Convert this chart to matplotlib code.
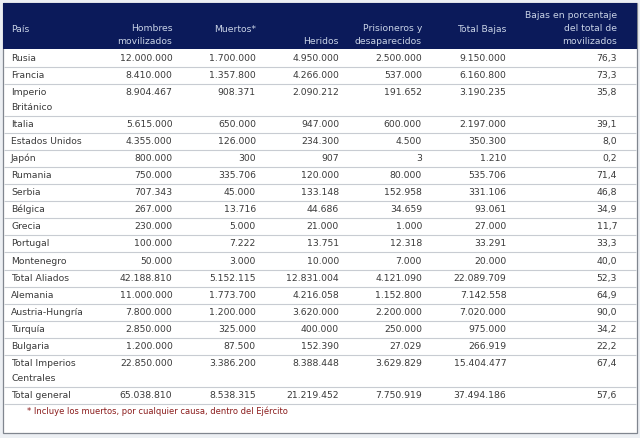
import matplotlib
matplotlib.use("Agg")
import matplotlib.pyplot as plt
from matplotlib.patches import Rectangle

# ---------------- data ----------------
paises = ["Rusia", "Francia", "Imperio\nBritánico", "Italia", "Estados Unidos", "Japón",
          "Rumania", "Serbia", "Bélgica", "Grecia", "Portugal", "Montenegro",
          "Total Aliados", "Alemania", "Austria-Hungría", "Turquía", "Bulgaria",
          "Total Imperios\nCentrales", "Total general"]
movilizados = [12000000, 8410000, 8904467, 5615000, 4355000, 800000, 750000, 707343,
               267000, 230000, 100000, 50000, 42188810, 11000000, 7800000, 2850000,
               1200000, 22850000, 65038810]
muertos = [1700000, 1357800, 908371, 650000, 126000, 300, 335706, 45000, 13716, 5000,
           7222, 3000, 5152115, 1773700, 1200000, 325000, 87500, 3386200, 8538315]
heridos = [4950000, 4266000, 2090212, 947000, 234300, 907, 120000, 133148, 44686, 21000,
           13751, 10000, 12831004, 4216058, 3620000, 400000, 152390, 8388448, 21219452]
prisioneros = [2500000, 537000, 191652, 600000, 4500, 3, 80000, 152958, 34659, 1000,
               12318, 7000, 4121090, 1152800, 2200000, 250000, 27029, 3629829, 7750919]
total_bajas = [9150000, 6160800, 3190235, 2197000, 350300, 1210, 535706, 331106, 93061,
               27000, 33291, 20000, 22089709, 7142558, 7020000, 975000, 266919,
               15404477, 37494186]
porcentaje = [76.3, 73.3, 35.8, 39.1, 8.0, 0.2, 71.4, 46.8, 34.9, 11.7, 33.3, 40.0,
              52.3, 64.9, 90.0, 34.2, 22.2, 67.4, 57.6]
encabezados = ["País", "Hombres\nmovilizados", "Muertos*", "Heridos",
               "Prisioneros y\ndesaparecidos", "Total Bajas",
               "Bajas en porcentaje\ndel total de\nmovilizados"]
nota = "* Incluye los muertos, por cualquier causa, dentro del Ejército"

# ---------------- layout / style ----------------
W, H = 640, 438
NAVY = "#0b1a5a"
HEAD_TXT = "#c9d3e6"
BODY_TXT = "#3a3a3a"
GRID = "#c8ccd2"
FS = 6.7
LINE = 15.0      # line spacing inside a cell (px)
ROW_H = 17.1
DOUBLE_H = 32.0
HEAD_TOP, HEAD_BOT = 3, 49
col_right = [None, 172.5, 256, 339, 422, 506.5, 617]
col_left = 11


def fmt_int(v):
    return f"{v:,}".replace(",", ".")


def fmt_pct(v):
    return f"{v:.1f}".replace(".", ",")


fig = plt.figure(figsize=(W / 100, H / 100), dpi=100)
fig.patch.set_facecolor("#eceff3")
ax = fig.add_axes([0, 0, 1, 1])
ax.set_xlim(0, W)
ax.set_ylim(H, 0)
ax.axis("off")

# outer box
ax.add_patch(Rectangle((2.5, 2.5), 634.5, 430.5, facecolor="white", edgecolor="#80868f", lw=0.9))
# header band
ax.add_patch(Rectangle((3, HEAD_TOP), 633.5, HEAD_BOT - HEAD_TOP, facecolor=NAVY, edgecolor="none"))

# header texts: bottom line positions as in reference
head_bottom_line = {0: 29.5, 1: 41.5, 2: 29.5, 3: 41.5, 4: 41.5, 5: 29.5, 6: 41.5}
for j, txt in enumerate(encabezados):
    lines = txt.split("\n")
    yb = head_bottom_line[j]
    for k, ln in enumerate(lines):
        y = yb - (len(lines) - 1 - k) * 13.0
        if j == 0:
            ax.text(col_left, y, ln, ha="left", va="center", color=HEAD_TXT, fontsize=FS)
        else:
            ax.text(col_right[j], y, ln, ha="right", va="center", color=HEAD_TXT, fontsize=FS)

# body rows
y = HEAD_BOT + 0.5
columns = [movilizados, muertos, heridos, prisioneros, total_bajas]
for i, pais in enumerate(paises):
    lines = pais.split("\n")
    h = DOUBLE_H if len(lines) > 1 else ROW_H
    ty = y + ROW_H / 2
    for k, ln in enumerate(lines):
        ax.text(col_left, ty + k * LINE, ln, ha="left", va="center", color=BODY_TXT, fontsize=FS)
    for j, col in enumerate(columns, start=1):
        ax.text(col_right[j], ty, fmt_int(col[i]), ha="right", va="center",
                color=BODY_TXT, fontsize=FS)
    ax.text(col_right[6], ty, fmt_pct(porcentaje[i]), ha="right", va="center",
            color=BODY_TXT, fontsize=FS)
    y += h
    ax.plot([4, 636], [y, y], color=GRID, lw=0.8, solid_capstyle="butt")

# footnote
ax.text(27, y + 7.5, nota, ha="left", va="center", color="#8b1c1c", fontsize=6.0)

fig.savefig("out.png", dpi=100, facecolor=fig.get_facecolor())
